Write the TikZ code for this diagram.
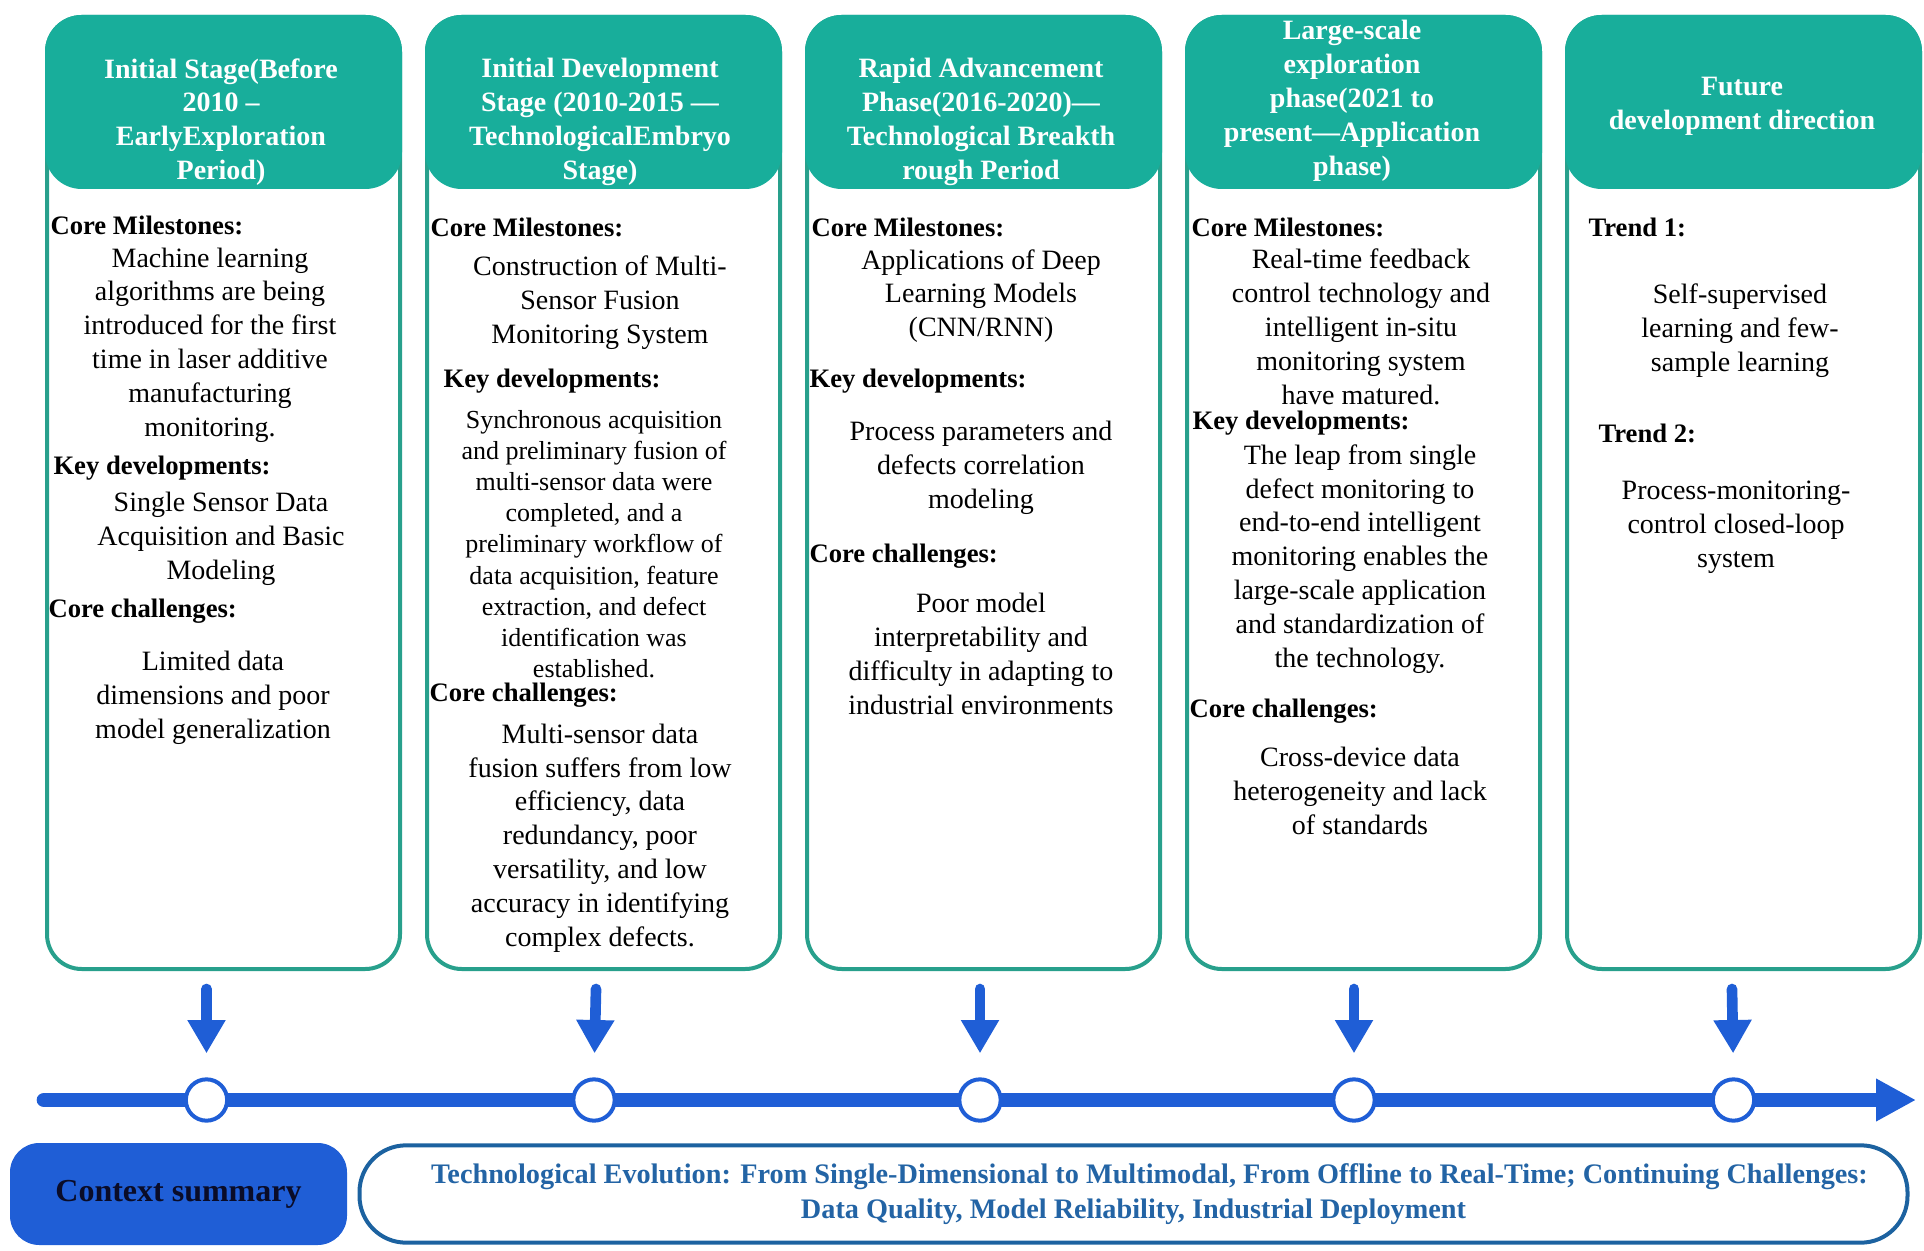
\documentclass[tikz,border=0pt]{standalone}
\usepackage{fontspec}
\setmainfont{Liberation Serif}
\usetikzlibrary{arrows.meta}

\definecolor{headteal}{RGB}{24,174,155}
\definecolor{boxteal}{RGB}{40,160,140}
\definecolor{lineblue}{RGB}{31,94,214}
\definecolor{sumblue}{RGB}{28,98,160}
\definecolor{sumtext}{RGB}{35,100,165}

\tikzset{every picture/.style={line width=0.75pt}}
\tikzset{
  stagebox/.style={draw=boxteal, line width=3pt, rounded corners=26pt},
  stagehead/.style={fill=headteal, draw=headteal, line width=3pt, rounded corners=26pt},
  headtext/.style={text=white, align=center, inner sep=0pt, font=\bfseries\fontsize{21}{25.4}\selectfont},
  lbltext/.style={anchor=west, inner sep=0pt, font=\bfseries\fontsize{20}{24}\selectfont},
  bodytext/.style={align=center, inner sep=0pt, font=\fontsize{21}{25.4}\selectfont},
  smalltext/.style={align=center, inner sep=0pt, font=\fontsize{19.5}{23.4}\selectfont},
  downarrow/.style={draw=lineblue, line width=8pt, line cap=round, shorten >=18pt, -{Triangle[width=27pt,length=25pt]}},
  timeline/.style={draw=lineblue, line width=11pt, line cap=round, -{Triangle[width=30pt,length=30pt]}},
  tlcircle/.style={circle, draw=lineblue, fill=white, line width=3pt, minimum size=31pt, inner sep=0pt},
}

\begin{document}
\begin{tikzpicture}[x=0.75pt,y=0.75pt,yscale=-1,xscale=1]
\useasboundingbox (0,0) rectangle (1924,1251);

%Shape: Stage boxes
\draw [stagebox] (47,17) rectangle (400,969) ;
\draw [stagehead] (47,17) rectangle (400,187) ;
\draw [stagebox] (427,17) rectangle (780,969) ;
\draw [stagehead] (427,17) rectangle (780,187) ;
\draw [stagebox] (807,17) rectangle (1160,969) ;
\draw [stagehead] (807,17) rectangle (1160,187) ;
\draw [stagebox] (1187,17) rectangle (1540,969) ;
\draw [stagehead] (1187,17) rectangle (1540,187) ;
\draw [stagebox] (1567,17) rectangle (1920,969) ;
\draw [stagehead] (1567,17) rectangle (1920,187) ;

% Text Node
\node [headtext] (hd1) at (221,122) {Initial Stage(Before\\2010 –\\EarlyExploration\\Period)};
\node [lbltext] (cm1) at (50,225) {Core Milestones:};
\node [bodytext] (cmt1) at (210,345) {Machine learning\\algorithms are being\\introduced for the first\\time in laser additive\\manufacturing\\monitoring.};
\node [lbltext] (kd1) at (53,468) {Key developments:};
\node [bodytext] (kdt1) at (221,539) {Single Sensor Data\\Acquisition and Basic\\Modeling};
\node [lbltext] (cc1) at (48,611) {Core challenges:};
\node [bodytext] (cct1) at (213,698) {Limited data\\dimensions and poor\\model generalization};

% Text Node
\node [headtext] (hd2) at (600,122) {Initial Development\\Stage (2010-2015 —\\TechnologicalEmbryo\\Stage)};
\node [lbltext] (cm2) at (430,227) {Core Milestones:};
\node [bodytext] (cmt2) at (600,303) {Construction of Multi-\\Sensor Fusion\\Monitoring System};
\node [lbltext] (kd2) at (443,381) {Key developments:};
\node [smalltext] (kdt2) at (594,544) {Synchronous acquisition\\and preliminary fusion of\\multi-sensor data were\\completed, and a\\preliminary workflow of\\data acquisition, feature\\extraction, and defect\\identification was\\established.};
\node [lbltext] (cc2) at (429,695) {Core challenges:};
\node [bodytext] (cct2) at (600,838) {Multi-sensor data\\fusion suffers from low\\efficiency, data\\redundancy, poor\\versatility, and low\\accuracy in identifying\\complex defects.};

% Text Node
\node [headtext] (hd3) at (981,122) {Rapid Advancement\\Phase(2016-2020)—\\Technological Breakth\\rough Period};
\node [lbltext] (cm3) at (811,227) {Core Milestones:};
\node [bodytext] (cmt3) at (981,296) {Applications of Deep\\Learning Models\\(CNN/RNN)};
\node [lbltext] (kd3) at (809,381) {Key developments:};
\node [bodytext] (kdt3) at (981,468) {Process parameters and\\defects correlation\\modeling};
\node [lbltext] (cc3) at (809,556) {Core challenges:};
\node [bodytext] (cct3) at (981,654) {Poor model\\interpretability and\\difficulty in adapting to\\industrial environments};

% Text Node
\node [headtext] (hd4) at (1352,101) {Large-scale\\exploration\\phase(2021 to\\present—Application\\phase)};
\node [lbltext] (cm4) at (1191,227) {Core Milestones:};
\node [bodytext] (cmt4) at (1361,327) {Real-time feedback\\control technology and\\intelligent in-situ\\monitoring system\\have matured.};
\node [lbltext] (kd4) at (1192,423) {Key developments:};
\node [bodytext] (kdt4) at (1360,559) {The leap from single\\defect monitoring to\\end-to-end intelligent\\monitoring enables the\\large-scale application\\and standardization of\\the technology.};
\node [lbltext] (cc4) at (1189,711) {Core challenges:};
\node [bodytext] (cct4) at (1360,791) {Cross-device data\\heterogeneity and lack\\of standards};

% Text Node
\node [headtext] (hd5) at (1742,106) {Future\\development direction};
\node [lbltext] (tr1) at (1588,227) {Trend 1:};
\node [bodytext] (trt1) at (1740,331) {Self-supervised\\learning and few-\\sample learning};
\node [lbltext] (tr2) at (1598,433) {Trend 2:};
\node [bodytext] (trt2) at (1736,527) {Process-monitoring-\\control closed-loop\\system};

%Straight Lines: timeline
\coordinate (ts) at (44,1100);
\coordinate (te) at (1916,1100);
\draw [timeline] (ts) -- (te) ;
\node [tlcircle] (t1) at (206.5,1100) {};
\node [tlcircle] (t2) at (594,1100) {};
\node [tlcircle] (t3) at (980,1100) {};
\node [tlcircle] (t4) at (1354,1100) {};
\node [tlcircle] (t5) at (1733.5,1100) {};

%Straight Lines: arrows down
\coordinate (a1) at (206.5,989);
\coordinate (a2) at (596,989);
\coordinate (a3) at (980,989);
\coordinate (a4) at (1354,989);
\coordinate (a5) at (1732,989);
\draw [downarrow] (a1) -- (t1.north) ;
\draw [downarrow] (a2) -- (t2.north) ;
\draw [downarrow] (a3) -- (t3.north) ;
\draw [downarrow] (a4) -- (t4.north) ;
\draw [downarrow] (a5) -- (t5.north) ;

%Shape: summary boxes
\node [fill=lineblue, rounded corners=22pt, minimum width=252.75pt, minimum height=76.5pt, text={rgb,255:red,10;green,12;blue,40}, font=\bfseries\fontsize{24}{28}\selectfont] (ctx) at (178.5,1194) {Context summary};
\node [draw=sumblue, fill=white, line width=3pt, rounded corners=35pt, minimum width=1161pt, minimum height=73pt, align=center, text=sumtext, font=\bfseries\fontsize{21.2}{25.8}\selectfont] (sum) at (1133.5,1194) {\hspace*{24pt}Technological Evolution: From Single-Dimensional to Multimodal, From Offline to Real-Time; Continuing Challenges:\\Data Quality, Model Reliability, Industrial Deployment};

\end{tikzpicture}
\end{document}
